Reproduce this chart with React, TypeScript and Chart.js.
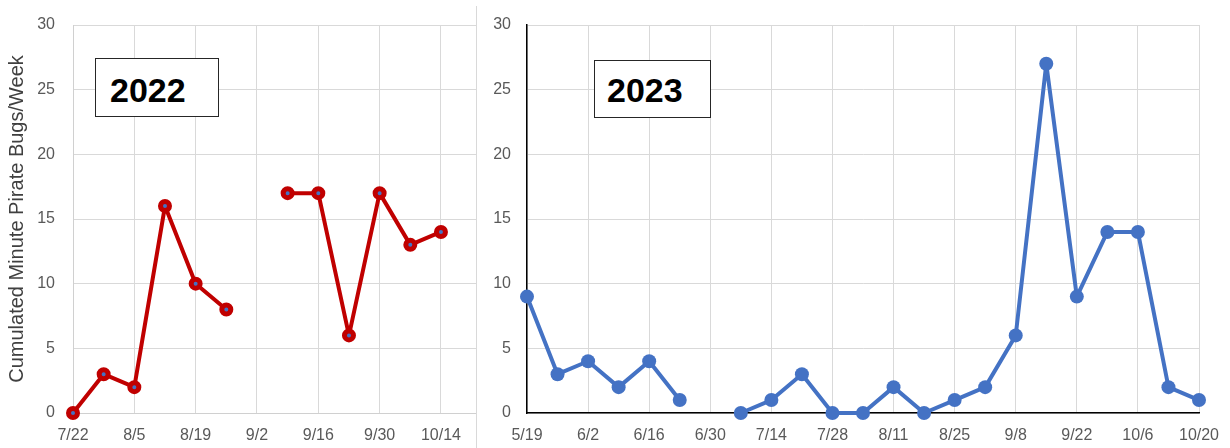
import React, { useEffect, useRef } from "react";
import { Chart, registerables } from "chart.js";

Chart.register(...registerables);

// ---------- DATA ----------
const weeks2022 = ["7/22", "7/29", "8/5", "8/12", "8/19", "8/26", "9/2", "9/9", "9/16", "9/23", "9/30", "10/7", "10/14"];
const values2022: (number | null)[] = [0, 3, 2, 16, 10, 8, null, 17, 17, 6, 17, 13, 14];
const axisStart2022 = "7/22";
const axisEnd2022 = "10/22";

const weeks2023 = ["5/19", "5/26", "6/2", "6/9", "6/16", "6/23", "6/30", "7/7", "7/14", "7/21", "7/28", "8/4", "8/11", "8/18", "8/25", "9/1", "9/8", "9/15", "9/22", "9/29", "10/6", "10/13", "10/20"];
const values2023: (number | null)[] = [9, 3, 4, 2, 4, 1, null, 0, 1, 3, 0, 0, 2, 0, 1, 2, 6, 27, 9, 14, 14, 2, 1];
const axisStart2023 = "5/19";
const axisEnd2023 = "10/20";

const yTicks = [0, 5, 10, 15, 20, 25, 30];
const yTitle = "Cumulated Minute Pirate Bugs/Week";

// ---------- helpers ----------
const DAY = 86400000;
function toUTC(year: number, md: string) {
  const [m, d] = md.split("/").map(Number);
  return Date.UTC(year, m - 1, d);
}
function dayOffset(year: number, start: string, md: string) {
  return Math.round((toUTC(year, md) - toUTC(year, start)) / DAY);
}
function fmt(year: number, start: string, v: number) {
  const dt = new Date(toUTC(year, start) + v * DAY);
  return `${dt.getUTCMonth() + 1}/${dt.getUTCDate()}`;
}

const FONT = "'Liberation Sans', Arial, sans-serif";
const TICK_COLOR = "#595959";
const GRID = "#d9d9d9";

type Cfg = {
  year: number;
  weeks: string[];
  values: (number | null)[];
  start: string;
  end: string;
  color: string;
  pointFill: string;
  pointRadius: number;
  pointBorder: number;
  axisColor: string;
  axisWidth: number;
  yWidth: number;
  padRight: number;
  showTitle: boolean;
  tickPad: number;
};

function buildChart(canvas: HTMLCanvasElement, c: Cfg) {
  const pts = c.weeks.map((w, i) => ({ x: dayOffset(c.year, c.start, w), y: c.values[i] }));
  return new Chart(canvas, {
    type: "line",
    data: {
      datasets: [
        {
          data: pts as any,
          borderColor: c.color,
          borderWidth: 4,
          borderJoinStyle: "round",
          borderCapStyle: "round",
          pointRadius: c.pointRadius,
          pointBorderWidth: c.pointBorder,
          pointBorderColor: c.color,
          pointBackgroundColor: c.pointFill,
          spanGaps: false,
          tension: 0,
          clip: false,
        },
      ],
    },
    options: {
      responsive: false,
      animation: false,
      devicePixelRatio: 1,
      layout: { autoPadding: false, padding: { top: 25, right: c.padRight, left: 0, bottom: 0 } },
      plugins: { legend: { display: false }, tooltip: { enabled: false } },
      scales: {
        x: {
          type: "linear",
          min: 0,
          max: dayOffset(c.year, c.start, c.end),
          grid: { color: GRID, drawTicks: false, lineWidth: 1 },
          border: { color: c.axisColor, width: c.axisWidth },
          ticks: {
            stepSize: 14,
            includeBounds: false,
            autoSkip: false,
            maxRotation: 0,
            padding: 13,
            color: TICK_COLOR,
            font: { family: FONT, size: 16 },
            callback: (v: any) => fmt(c.year, c.start, Number(v)),
          },
          afterFit: (s: any) => {
            s.height = 35;
            s.paddingLeft = 0;
            s.paddingRight = 0;
          },
        },
        y: {
          min: yTicks[0],
          max: yTicks[yTicks.length - 1],
          grid: { color: GRID, drawTicks: false, lineWidth: 1 },
          border: { color: c.axisColor, width: c.axisWidth },
          ticks: {
            stepSize: yTicks[1] - yTicks[0],
            padding: c.tickPad,
            color: TICK_COLOR,
            font: { family: FONT, size: 16 },
          },
          title: {
            display: c.showTitle,
            text: yTitle,
            color: "#404040",
            font: { family: FONT, size: 20 },
            padding: { top: 5, bottom: 0 },
          },
          afterFit: (s: any) => {
            s.width = c.yWidth;
            s.paddingTop = 0;
            s.paddingBottom = 0;
          },
        },
      },
    },
  } as any);
}

export default function App() {
  const leftRef = useRef<HTMLCanvasElement>(null);
  const rightRef = useRef<HTMLCanvasElement>(null);

  useEffect(() => {
    const a = buildChart(leftRef.current!, {
      year: 2022,
      weeks: weeks2022,
      values: values2022,
      start: axisStart2022,
      end: axisEnd2022,
      color: "#C00000",
      pointFill: "#4472C4",
      pointRadius: 4.5,
      pointBorder: 5,
      axisColor: "#d0d0d0",
      axisWidth: 1,
      yWidth: 73,
      padRight: 1,
      showTitle: true,
      tickPad: 18,
    });
    const b = buildChart(rightRef.current!, {
      year: 2023,
      weeks: weeks2023,
      values: values2023,
      start: axisStart2023,
      end: axisEnd2023,
      color: "#4472C4",
      pointFill: "#4472C4",
      pointRadius: 7,
      pointBorder: 0,
      axisColor: "#000000",
      axisWidth: 1.5,
      yWidth: 49,
      padRight: 31,
      showTitle: false,
      tickPad: 16,
    });
    return () => {
      a.destroy();
      b.destroy();
    };
  }, []);

  const boxBase: React.CSSProperties = {
    position: "absolute",
    boxSizing: "border-box",
    border: "1px solid #262626",
    background: "#fff",
    fontFamily: FONT,
    fontWeight: "bold",
    fontSize: 34,
    lineHeight: "38px",
    color: "#000",
    whiteSpace: "nowrap",
  };

  return (
    <div style={{ position: "absolute", left: 0, top: 0, width: 1230, height: 448, background: "#fff", overflow: "hidden" }}>
      <canvas ref={leftRef} width={477} height={448} style={{ position: "absolute", left: 0, top: 0, width: 477, height: 448 }} />
      <canvas ref={rightRef} width={752} height={448} style={{ position: "absolute", left: 478, top: 0, width: 752, height: 448 }} />
      <div style={{ position: "absolute", left: 476, top: 6, width: 1, height: 442, background: GRID }} />
      <div style={{ ...boxBase, left: 95, top: 58, width: 124, height: 59, paddingLeft: 14, paddingTop: 12 }}>2022</div>
      <div style={{ ...boxBase, left: 594, top: 60, width: 117, height: 58, paddingLeft: 12, paddingTop: 10 }}>2023</div>
    </div>
  );
}
